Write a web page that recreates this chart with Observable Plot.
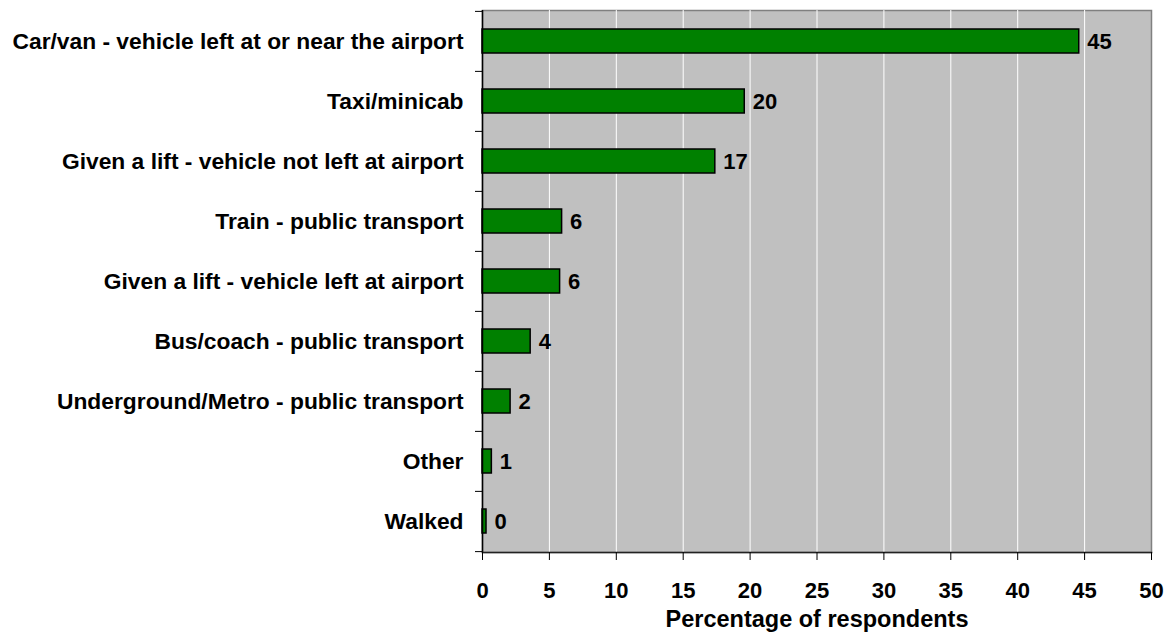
<!DOCTYPE html>
<html>
<head>
<meta charset="utf-8">
<script src="https://cdn.jsdelivr.net/npm/d3@7"></script>
<script src="https://cdn.jsdelivr.net/npm/@observablehq/plot@0.6"></script>
<style>
  html, body { margin: 0; padding: 0; background: #ffffff; }
</style>
</head>
<body>
<div id="chart"></div>
<script>
const categories = [
  "Car/van - vehicle left at or near the airport",
  "Taxi/minicab",
  "Given a lift - vehicle not left at airport",
  "Train - public transport",
  "Given a lift - vehicle left at airport",
  "Bus/coach - public transport",
  "Underground/Metro - public transport",
  "Other",
  "Walked"
];
const values = [44.6, 19.6, 17.4, 5.95, 5.8, 3.6, 2.1, 0.7, 0.3];
const valueLabels = ["45", "20", "17", "6", "6", "4", "2", "1", "0"];
const xTicks = [0, 5, 10, 15, 20, 25, 30, 35, 40, 45, 50];
const gridTicks = [5, 10, 15, 20, 25, 30, 35, 40, 45];
const xLabel = "Percentage of respondents";

const data = categories.map((c, i) => ({category: c, value: values[i], label: valueLabels[i]}));

const W = 1168, H = 632;
const mTop = 10, mBottom = 80, mLeft = 482, mRight = 17;
const step = (H - mTop - mBottom) / categories.length;

const chart = Plot.plot({
  width: W,
  height: H,
  marginTop: mTop,
  marginBottom: mBottom,
  marginLeft: mLeft,
  marginRight: mRight,
  style: {fontFamily: "'Liberation Sans', Arial, sans-serif", fontSize: "22px", fontWeight: "bold", color: "#000", background: "#fff"},
  x: {domain: [0, 50], ticks: xTicks},
  y: {domain: categories, paddingInner: 0.6, paddingOuter: 0.3},
  marks: [
    Plot.frame({fill: "#c0c0c0", stroke: "#808080", strokeWidth: 1.5}),
    Plot.ruleX(gridTicks, {stroke: "#ffffff", strokeWidth: 1}),
    Plot.barX(data, {x: "value", y: "category", fill: "#008000", stroke: "#000", strokeWidth: 1.5}),
    Plot.text(data, {x: "value", y: "category", text: "label", textAnchor: "start", dx: 8, fontSize: 22, fontWeight: "bold", fill: "#000"}),
    Plot.ruleX([0], {stroke: "#000", strokeWidth: 1.5}),
    Plot.frame({anchor: "bottom", stroke: "#222", strokeWidth: 1.5}),
    Plot.axisY({tickSize: 0, tickPadding: 19, label: null, fontSize: 22.8}),
    Plot.axisY({tickSize: 7, tickFormat: () => "", dy: -step / 2, label: null, stroke: "#000"}),
    Plot.axisY([categories[categories.length - 1]], {tickSize: 7, tickFormat: () => "", dy: step / 2, label: null, stroke: "#000"}),
    Plot.axisX({ticks: xTicks, tickSize: 8, tickPadding: 22, stroke: "#000", fontSize: 22, label: null}),
    Plot.axisX({ticks: [], tickSize: 0, fontSize: 23.5, label: xLabel, labelAnchor: "center", labelOffset: 74, labelArrow: "none"})
  ]
});
document.getElementById("chart").appendChild(chart);
</script>
</body>
</html>
